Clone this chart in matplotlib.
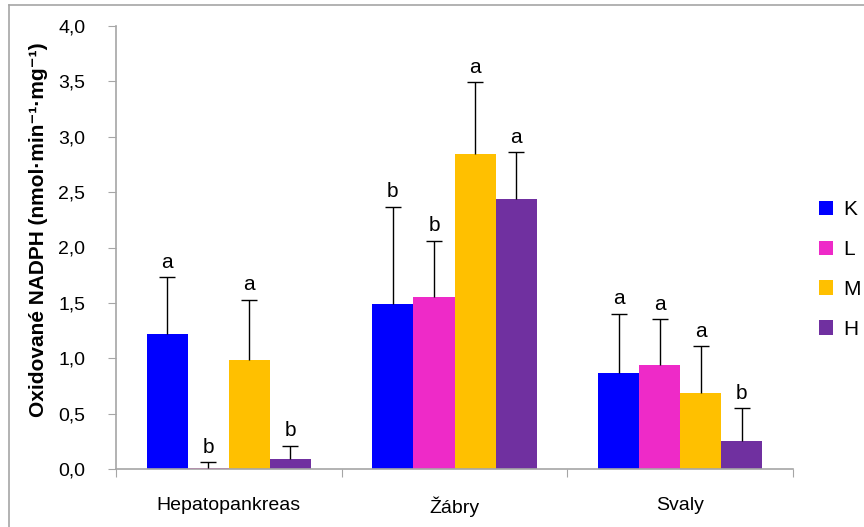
import matplotlib.pyplot as plt
from matplotlib.lines import Line2D
import numpy as np

plt.rcParams['font.family'] = ['Liberation Sans', 'DejaVu Sans']

# Data
categories = ['Hepatopankreas', 'Žábry', 'Svaly']
groups = ['K', 'L', 'M', 'H']
colors = ['#0000FF', '#EE2AC8', '#FFC000', '#7030A0']

means = {
    'K': [1.22, 1.49, 0.87],
    'L': [0.01, 1.55, 0.94],
    'M': [0.98, 2.84, 0.69],
    'H': [0.09, 2.44, 0.25],
}
errors = {
    'K': [0.51, 0.88, 0.53],
    'L': [0.05, 0.51, 0.41],
    'M': [0.55, 0.65, 0.42],
    'H': [0.12, 0.42, 0.30],
}
letters = {
    'K': ['a', 'b', 'a'],
    'L': ['b', 'b', 'a'],
    'M': ['a', 'a', 'a'],
    'H': ['b', 'a', 'b'],
}

fig = plt.figure(figsize=(8.64, 5.27), dpi=100)
ax = fig.add_axes([116 / 864, 1 - 469 / 527, (793 - 116) / 864, (469 - 26) / 527])

# figure frame (only left/top visible in the reference)
fig.add_artist(Line2D([9 / 864, 9 / 864], [0, 1 - 5 / 527], color='#A6A6A6', lw=1.2, transform=fig.transFigure))
fig.add_artist(Line2D([9 / 864, 1], [1 - 5 / 527, 1 - 5 / 527], color='#A6A6A6', lw=1.2, transform=fig.transFigure))

x = np.arange(len(categories)) + 0.5
width = 0.182
for i, g in enumerate(groups):
    pos = x + (i - 1.5) * width
    ax.bar(pos, means[g], width, color=colors[i], label=g, zorder=2)
    tops = np.array(means[g]) + np.array(errors[g])
    eb = ax.errorbar(pos, means[g], yerr=[np.zeros(3), errors[g]], fmt='none',
                     ecolor='black', elinewidth=1, capsize=6, capthick=1, zorder=3)
    eb[1][0].set_visible(False)  # only upper caps
    for p, t, lt in zip(pos, tops, letters[g]):
        ax.text(p, t + 0.05, lt, ha='center', va='bottom', fontsize=15)

ax.set_xlim(0, 3)
ax.set_ylim(0, 4)
ax.set_yticks(np.arange(0, 4.01, 0.5))
ax.set_yticklabels([f'{v:.1f}'.replace('.', ',') for v in np.arange(0, 4.01, 0.5)], fontsize=14)
ax.set_xticks([0, 1, 2, 3])
ax.set_xticklabels([])
ax.set_xticks(x, minor=True)
ax.set_xticklabels(categories, minor=True, fontsize=14)
ax.tick_params(axis='x', which='minor', length=0, pad=20)
ax.tick_params(axis='x', which='major', direction='out', length=6, color='#A6A6A6')
ax.tick_params(axis='y', direction='out', length=6, color='#A6A6A6', pad=16)

for s in ['top', 'right']:
    ax.spines[s].set_visible(False)
for s in ['left', 'bottom']:
    ax.spines[s].set_color('#A6A6A6')
    ax.spines[s].set_linewidth(1.2)

ax.set_ylabel('Oxidované NADPH (nmol·min⁻¹·mg⁻¹)', fontsize=15, fontweight='bold')
ax.yaxis.set_label_coords(-0.10, 0.54)

ax.legend(loc='center left', bbox_to_anchor=(1.01, 0.45), frameon=False, fontsize=15,
          handlelength=0.7, handleheight=0.7, labelspacing=1.0, handletextpad=0.5)

fig.savefig('out.png', dpi=100)
